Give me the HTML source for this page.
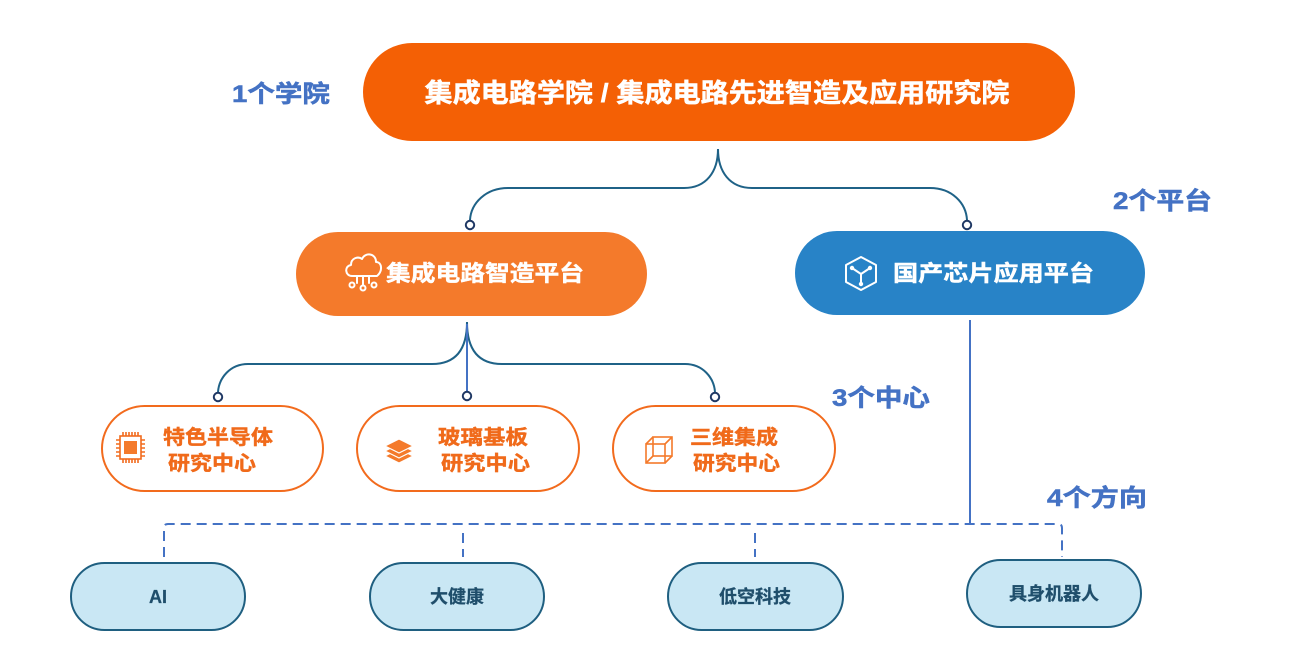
<!DOCTYPE html>
<html>
<head>
<meta charset="utf-8">
<style>
html,body{margin:0;padding:0;background:#fff;}
svg{display:block;}
text{font-family:"Liberation Sans","Noto Sans CJK SC",sans-serif;font-weight:bold;}
</style>
</head>
<body>
<svg width="1316" height="663" viewBox="0 0 1316 663" xmlns="http://www.w3.org/2000/svg">
  <!-- Top box -->
  <rect x="363" y="43" width="712" height="98" rx="49" ry="49" fill="#F46005"/>
  <text x="717" y="102" font-size="26" fill="#fff" stroke="#fff" stroke-width="0.5" text-anchor="middle" textLength="585" lengthAdjust="spacingAndGlyphs">集成电路学院 / 集成电路先进智造及应用研究院</text>
  <text x="232" y="102" font-size="24" fill="#4472C4" stroke="#4472C4" stroke-width="0.5" textLength="98" lengthAdjust="spacingAndGlyphs">1个学院</text>

  <!-- top connector -->
  <g fill="none" stroke="#1F6287" stroke-width="2">
    <path d="M718,149 C718,172 706,188 684,188 L508,188 C486,188 471,203 470,220"/>
    <path d="M718,149 C718,172 730,188 752,188 L930,188 C952,188 966,203 967,220"/>
  </g>
  <circle cx="470" cy="225" r="4.2" fill="#fff" stroke="#1F3864" stroke-width="2"/>
  <circle cx="967" cy="225" r="4.2" fill="#fff" stroke="#1F3864" stroke-width="2"/>

  <!-- Left platform -->
  <rect x="296" y="232" width="351" height="84" rx="42" ry="42" fill="#F47A2B"/>
  <g fill="none" stroke="#fff" stroke-width="2" stroke-linecap="round" stroke-linejoin="round">
    <path d="M352,276 C345,276 344,266 351,265 C351,258 358,256 362,259 C365,252 376,253 376,262 C382,262 383,271 377,276 Z"/>
    <line x1="357" y1="276" x2="357" y2="283"/>
    <line x1="363" y1="276" x2="363" y2="285"/>
    <line x1="369" y1="276" x2="369" y2="283"/>
    <circle cx="352" cy="285" r="2.5"/>
    <circle cx="363" cy="288" r="2.5"/>
    <circle cx="374" cy="285" r="2.5"/>
  </g>
  <text x="386" y="281" font-size="22" fill="#fff" stroke="#fff" stroke-width="0.4" textLength="198" lengthAdjust="spacingAndGlyphs">集成电路智造平台</text>

  <!-- Right platform -->
  <rect x="795" y="231" width="350" height="84" rx="42" ry="42" fill="#2883C7"/>
  <g fill="none" stroke="#fff" stroke-width="2" stroke-linejoin="round">
    <path d="M861,257 L876,265 L876,282 L861,290 L846,282 L846,265 Z"/>
    <path d="M852,268 L861,274 L870,268 M861,274 L861,284"/>
  </g>
  <g fill="#fff">
    <circle cx="852" cy="268" r="2.2"/>
    <circle cx="870" cy="268" r="2.2"/>
    <circle cx="861" cy="284" r="2.2"/>
  </g>
  <text x="893" y="281" font-size="22" fill="#fff" stroke="#fff" stroke-width="0.4" textLength="201" lengthAdjust="spacingAndGlyphs">国产芯片应用平台</text>
  <text x="1113" y="209" font-size="24" fill="#4472C4" stroke="#4472C4" stroke-width="0.5" textLength="99" lengthAdjust="spacingAndGlyphs">2个平台</text>

  <!-- left platform connector -->
  <g fill="none" stroke="#1F6287" stroke-width="2">
    <path d="M467,322 C467,348 457,364 432,364 L248,364 C230,364 219,378 218,392"/>
    <path d="M467,322 C467,348 477,364 502,364 L685,364 C703,364 714,378 715,392"/>
  </g>
  <line x1="467" y1="324" x2="467" y2="392" stroke="#4472C4" stroke-width="2"/>
  <circle cx="218" cy="397" r="4.2" fill="#fff" stroke="#1F3864" stroke-width="2"/>
  <circle cx="467" cy="396" r="4.2" fill="#fff" stroke="#1F3864" stroke-width="2"/>
  <circle cx="715" cy="397" r="4.2" fill="#fff" stroke="#1F3864" stroke-width="2"/>

  <!-- Center nodes -->
  <g fill="#fff" stroke="#F26B1D" stroke-width="2">
    <rect x="102" y="406" width="221" height="85" rx="42.5" ry="42.5"/>
    <rect x="357" y="406" width="222" height="85" rx="42.5" ry="42.5"/>
    <rect x="613" y="406" width="222" height="85" rx="42.5" ry="42.5"/>
  </g>
  <!-- chip icon -->
  <g stroke="#F26B1D" stroke-width="1.6" fill="none">
    <rect x="120" y="436" width="21" height="23"/>
    <path d="M123,436 v-4 M126,436 v-4 M129,436 v-4 M132,436 v-4 M135,436 v-4 M138,436 v-4
             M123,459 v4 M126,459 v4 M129,459 v4 M132,459 v4 M135,459 v4 M138,459 v4
             M120,440 h-4 M120,444 h-4 M120,448 h-4 M120,452 h-4 M120,456 h-4
             M141,440 h4 M141,444 h4 M141,448 h4 M141,452 h4 M141,456 h4"/>
  </g>
  <rect x="124" y="441" width="13" height="13" fill="#F47A2B"/>
  <g fill="#F06A1A" stroke="#F06A1A" stroke-width="0.4" font-size="20">
    <text x="163" y="444" textLength="110" lengthAdjust="spacingAndGlyphs">特色半导体</text>
    <text x="168" y="470" textLength="88" lengthAdjust="spacingAndGlyphs">研究中心</text>
    <text x="438" y="444" textLength="90" lengthAdjust="spacingAndGlyphs">玻璃基板</text>
    <text x="441" y="470" textLength="89" lengthAdjust="spacingAndGlyphs">研究中心</text>
    <text x="690" y="444" textLength="88" lengthAdjust="spacingAndGlyphs">三维集成</text>
    <text x="693" y="470" textLength="87" lengthAdjust="spacingAndGlyphs">研究中心</text>
  </g>

  <!-- layers icon -->
  <g fill="#F47A2B" stroke="#fff" stroke-width="1.2">
    <path d="M385,456 L399,449 L413,456 L399,463 Z"/>
    <path d="M385,451 L399,444 L413,451 L399,458 Z"/>
    <path d="M385,446 L399,439 L413,446 L399,453 Z"/>
  </g>

  <!-- wireframe cube -->
  <g fill="none" stroke="#F47A2B" stroke-width="1.6">
    <rect x="646" y="444" width="19" height="19"/>
    <rect x="653" y="437" width="19" height="19"/>
    <path d="M646,444 L653,437 M665,444 L672,437 M665,463 L672,456 M646,463 L653,456"/>
  </g>

  <text x="832" y="406" font-size="24" fill="#4472C4" stroke="#4472C4" stroke-width="0.5" textLength="98" lengthAdjust="spacingAndGlyphs">3个中心</text>

  <!-- right vertical line -->
  <line x1="970" y1="320" x2="970" y2="524" stroke="#4472C4" stroke-width="2"/>
  <text x="1047" y="506" font-size="24" fill="#4472C4" stroke="#4472C4" stroke-width="0.5" textLength="100" lengthAdjust="spacingAndGlyphs">4个方向</text>

  <!-- dashed connectors -->
  <g fill="none" stroke="#4472C4" stroke-width="2" stroke-dasharray="10,6">
    <path d="M164,557 L164,528 Q164,524 168,524 L1058,524 Q1062,524 1062,528 L1062,557"/>
    <line x1="463" y1="533" x2="463" y2="557"/>
    <line x1="755" y1="533" x2="755" y2="557"/>
  </g>

  <!-- bottom nodes -->
  <g fill="#C9E7F4" stroke="#1F5F80" stroke-width="2">
    <rect x="71" y="563" width="174" height="67" rx="33.5" ry="33.5"/>
    <rect x="370" y="563" width="174" height="67" rx="33.5" ry="33.5"/>
    <rect x="668" y="563" width="175" height="67" rx="33.5" ry="33.5"/>
    <rect x="967" y="560" width="174" height="67" rx="33.5" ry="33.5"/>
  </g>
  <g font-size="18" fill="#1F4E6B" stroke="#1F4E6B" stroke-width="0.3" text-anchor="middle">
    <text x="158" y="603">AI</text>
    <text x="457" y="603">大健康</text>
    <text x="755" y="603">低空科技</text>
    <text x="1054" y="600">具身机器人</text>
  </g>
</svg>
</body>
</html>
